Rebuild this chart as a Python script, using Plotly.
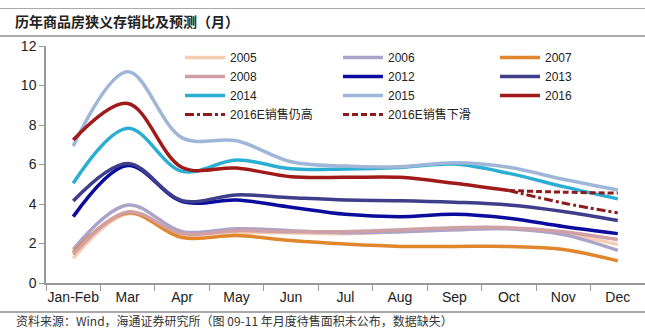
import plotly.graph_objects as go

months = ["Jan-Feb", "Mar", "Apr", "May", "Jun", "Jul", "Aug", "Sep", "Oct", "Nov", "Dec"]

y2005 = [1.25, 3.50, 2.45, 2.55, 2.55, 2.50, 2.60, 2.70, 2.75, 2.50, 1.95]
y2006 = [1.70, 3.95, 2.60, 2.75, 2.65, 2.55, 2.60, 2.70, 2.75, 2.45, 1.65]
y2007 = [1.55, 3.55, 2.30, 2.40, 2.15, 1.97, 1.85, 1.85, 1.85, 1.70, 1.12]
y2008 = [1.45, 3.60, 2.50, 2.65, 2.60, 2.60, 2.70, 2.80, 2.80, 2.60, 2.20]
y2012 = [3.36, 5.95, 4.12, 4.20, 3.84, 3.48, 3.36, 3.48, 3.28, 2.86, 2.50]
y2013 = [4.15, 6.05, 4.17, 4.46, 4.32, 4.20, 4.17, 4.09, 3.95, 3.62, 3.16]
y2014 = [5.05, 7.83, 5.65, 6.23, 5.78, 5.77, 5.85, 6.02, 5.55, 4.88, 4.26]
y2015 = [6.93, 10.69, 7.35, 7.20, 6.14, 5.92, 5.89, 6.09, 5.86, 5.25, 4.71]
y2016 = [7.24, 9.09, 5.85, 5.82, 5.38, 5.35, 5.35, 5.05, 4.68, None, None]
y2016_high = [None, None, None, None, None, None, None, None, 4.68, 4.05, 3.55]
y2016_low = [None, None, None, None, None, None, None, None, 4.68, 4.60, 4.55]

# name, values, colour, dash, legend column
series = [
    ("2005", y2005, "#F6CDB0", "solid", "legend"),
    ("2006", y2006, "#ABA3C8", "solid", "legend2"),
    ("2007", y2007, "#E0862C", "solid", "legend3"),
    ("2008", y2008, "#CFA0A6", "solid", "legend"),
    ("2012", y2012, "#0B0B9E", "solid", "legend2"),
    ("2013", y2013, "#3F3E8A", "solid", "legend3"),
    ("2014", y2014, "#2BAED3", "solid", "legend"),
    ("2015", y2015, "#9FB6D8", "solid", "legend2"),
    ("2016", y2016, "#A01A1A", "solid", "legend3"),
    ("2016E销售仍高", y2016_high, "#8E1B1B", "dashdot", "legend"),
    ("2016E销售下滑", y2016_low, "#8E1B1B", "6px,3px", "legend2"),
]

fig = go.Figure()
for name, vals, color, dash, leg in series:
    fig.add_trace(go.Scatter(
        x=months, y=vals, name=name, mode="lines", legend=leg,
        line=dict(color=color, width=3.5 if dash == "solid" else 3, dash=dash,
                  shape="spline", smoothing=1.0),
        connectgaps=False,
    ))

L, R, T, B = 46, 0, 46, 47
PW = 645 - L - R
PH = 330 - T - B

def px(pix):
    return (pix - L) / PW

def py(pix):
    return (330 - B - pix) / PH

legfont = dict(size=12, family="Liberation Sans, Noto Sans CJK SC, sans-serif", color="#222")

def leg(xpix):
    return dict(
        orientation="v", x=px(xpix), y=py(43), xanchor="left", yanchor="top",
        itemwidth=40, font=legfont, bgcolor="rgba(0,0,0,0)", tracegroupgap=0,
        traceorder="normal",
    )

fig.update_layout(
    width=645, height=330,
    margin=dict(l=L, r=R, t=T, b=B),
    paper_bgcolor="white", plot_bgcolor="white",
    font=dict(family="Liberation Sans, Arial, sans-serif", color="#222"),
    showlegend=True,
    legend=leg(180),
    legend2=leg(338),
    legend3=leg(495),
    title=dict(
        text="历年商品房狭义存销比及预测（月）",
        xref="container", yref="container", x=15 / 645, y=1 - 22 / 330,
        xanchor="left", yanchor="middle",
        font=dict(size=14, family="Noto Sans CJK SC, sans-serif", color="#222", weight="bold"),
    ),
    xaxis=dict(
        type="category", range=[-0.5, 10.5], showgrid=False, zeroline=False,
        showline=True, linecolor="#999", linewidth=1.5,
        ticks="outside", tickson="boundaries", ticklen=6, tickcolor="#999",
        tickangle=0, tickfont=dict(size=14, color="#222"),
    ),
    yaxis=dict(
        range=[0, 12], dtick=2, showgrid=False, zeroline=False,
        showline=True, linecolor="#999", linewidth=1.5,
        ticks="outside", ticklen=5, tickcolor="#999",
        tickfont=dict(size=14, color="#222"),
    ),
    shapes=[
        dict(type="line", xref="paper", yref="paper", x0=px(0), x1=1, y0=py(8.5), y1=py(8.5),
             line=dict(color="#aaa", width=1)),
        dict(type="line", xref="paper", yref="paper", x0=px(0), x1=1, y0=py(36), y1=py(36),
             line=dict(color="#555", width=1)),
        dict(type="line", xref="paper", yref="paper", x0=px(0), x1=1, y0=py(312), y1=py(312),
             line=dict(color="#555", width=1)),
    ],
    annotations=[
        dict(text="资料来源：Wind，海通证券研究所（图 09-11 年月度待售面积未公布，数据缺失）",
             xref="paper", yref="paper", x=px(14), y=py(320), xanchor="left", yanchor="middle",
             showarrow=False, font=dict(size=12, family="Noto Sans CJK SC, sans-serif", color="#333")),
    ],
)

fig.write_html("out.html")
